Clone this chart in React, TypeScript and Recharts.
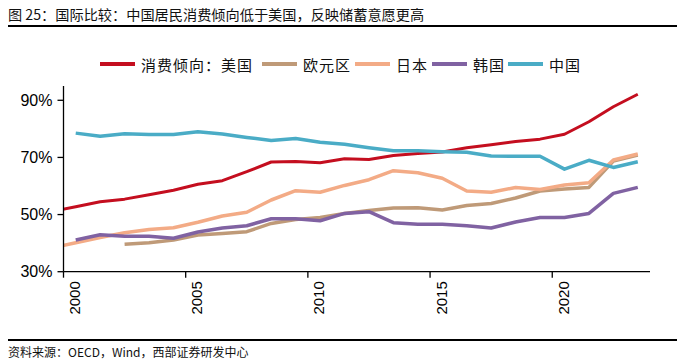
import { LineChart, Line, XAxis, YAxis } from "recharts";

// years; each point sits mid-year on the axis
const years = [1999, 2000, 2001, 2002, 2003, 2004, 2005, 2006, 2007, 2008, 2009, 2010, 2011, 2012, 2013, 2014, 2015, 2016, 2017, 2018, 2019, 2020, 2021, 2022, 2023];

const us = [51.0, 52.75, 54.5, 55.4, 56.95, 58.5, 60.6, 61.85, 65.0, 68.4, 68.6, 68.15, 69.55, 69.3, 70.7, 71.4, 71.9, 73.4, 74.45, 75.6, 76.4, 78.1, 82.5, 87.75, 92.1];
const euro = [null, null, null, 39.6, 40.15, 41.1, 42.85, 43.4, 44.0, 46.9, 48.3, 49.0, 50.4, 51.4, 52.3, 52.4, 51.6, 53.2, 53.9, 55.8, 58.25, 58.95, 59.5, 68.7, 70.8];
const japan = [38.25, 40.15, 42.0, 43.65, 44.8, 45.4, 47.3, 49.5, 50.8, 55.1, 58.35, 57.8, 60.2, 62.2, 65.35, 64.65, 62.7, 58.25, 57.8, 59.5, 58.8, 60.35, 61.15, 69.1, 71.2];
const korea = [null, 41.1, 42.95, 42.4, 42.4, 41.7, 43.9, 45.3, 46.1, 48.55, 48.55, 47.85, 50.4, 51.0, 47.15, 46.6, 46.6, 46.1, 45.3, 47.4, 49.0, 49.0, 50.4, 57.4, 59.5];
const china = [null, 78.5, 77.4, 78.3, 78.0, 78.0, 79.0, 78.2, 77.0, 75.9, 76.6, 75.3, 74.6, 73.4, 72.35, 72.35, 72.0, 71.8, 70.5, 70.4, 70.4, 65.9, 69.0, 66.5, 68.5];

const xTicks = [2000, 2005, 2010, 2015, 2020];
const yTicks = [30, 50, 70, 90];

const seriesNames = ["消费倾向：美国", "欧元区", "日本", "韩国", "中国"];
const seriesKeys = ["us", "euro", "japan", "korea", "china"];
const colors = ["#C40E1F", "#BF9A78", "#F3AB86", "#8062A2", "#4AACC6"];
const widths = [3, 3.5, 3.5, 3.5, 3.5];
const legendLeft = [100, 262, 355, 432, 508];

const data = years.map((y, i) => ({
  x: y + 0.5,
  us: us[i],
  euro: euro[i],
  japan: japan[i],
  korea: korea[i],
  china: china[i],
}));

const cjk = '"Noto Sans CJK SC", "Noto Sans", sans-serif';
const latin = '"Liberation Sans", Arial, sans-serif';

function YearTick(props: any) {
  const { x, y, payload } = props;
  const tx = x + 16.5;
  const ty = y + 1.5;
  return (
    <text x={tx} y={ty} transform={`rotate(-90, ${tx}, ${ty})`} textAnchor="end" fontSize={15} fontFamily={latin} fill="#000">
      {payload.value}
    </text>
  );
}

export default function App() {
  return (
    <div style={{ position: "absolute", left: 0, top: 0, width: 684, height: 364, background: "#fff", overflow: "hidden" }}>
      <div style={{ position: "absolute", left: 8, top: 4, fontSize: 14.2, fontFamily: cjk, color: "#111", whiteSpace: "nowrap" }}>
        图 25：国际比较：中国居民消费倾向低于美国，反映储蓄意愿更高
      </div>
      <div style={{ position: "absolute", left: 8, top: 25, width: 669, height: 2, background: "#000" }} />

      {seriesNames.map((n, i) => (
        <div key={n} style={{ position: "absolute", left: legendLeft[i], top: 53, height: 22, display: "flex", alignItems: "center", whiteSpace: "nowrap" }}>
          <div style={{ width: 35, height: 3.5, background: colors[i], marginRight: 6 }} />
          <span style={{ fontSize: 15, fontFamily: cjk, color: "#111", letterSpacing: 1 }}>{n}</span>
        </div>
      ))}

      <div style={{ position: "absolute", left: 0, top: 0 }}>
        <LineChart width={684} height={364} data={data} margin={{ top: 86, right: 34, bottom: 42.3, left: 0 }}>
          <XAxis
            dataKey="x"
            type="number"
            domain={[2000, 2024]}
            ticks={xTicks}
            allowDataOverflow
            interval={0}
            height={50}
            tickSize={6}
            tickMargin={2}
            axisLine={{ stroke: "#000", strokeWidth: 1.3 }}
            tickLine={{ stroke: "#000", strokeWidth: 1.3 }}
            tick={<YearTick />}
          />
          <YAxis
            type="number"
            domain={[30, 95]}
            ticks={yTicks}
            width={63.5}
            tickSize={6}
            tickMargin={5}
            tickFormatter={(v: number) => `${v}%`}
            axisLine={{ stroke: "#000", strokeWidth: 1.3 }}
            tickLine={{ stroke: "#000", strokeWidth: 1.3 }}
            tick={{ fontSize: 16, fontFamily: latin, fill: "#000" }}
          />
          {seriesKeys.map((k, i) => (
            <Line
              key={k}
              type="linear"
              dataKey={k}
              stroke={colors[i]}
              strokeWidth={widths[i]}
              strokeLinejoin="round"
              dot={false}
              activeDot={false}
              isAnimationActive={false}
            />
          ))}
        </LineChart>
      </div>

      <div style={{ position: "absolute", left: 8, top: 339, width: 669, height: 2, background: "#000" }} />
      <div style={{ position: "absolute", left: 8, top: 343, fontSize: 12, fontFamily: cjk, color: "#111", whiteSpace: "nowrap" }}>
        资料来源：OECD，Wind，西部证券研发中心
      </div>
    </div>
  );
}
